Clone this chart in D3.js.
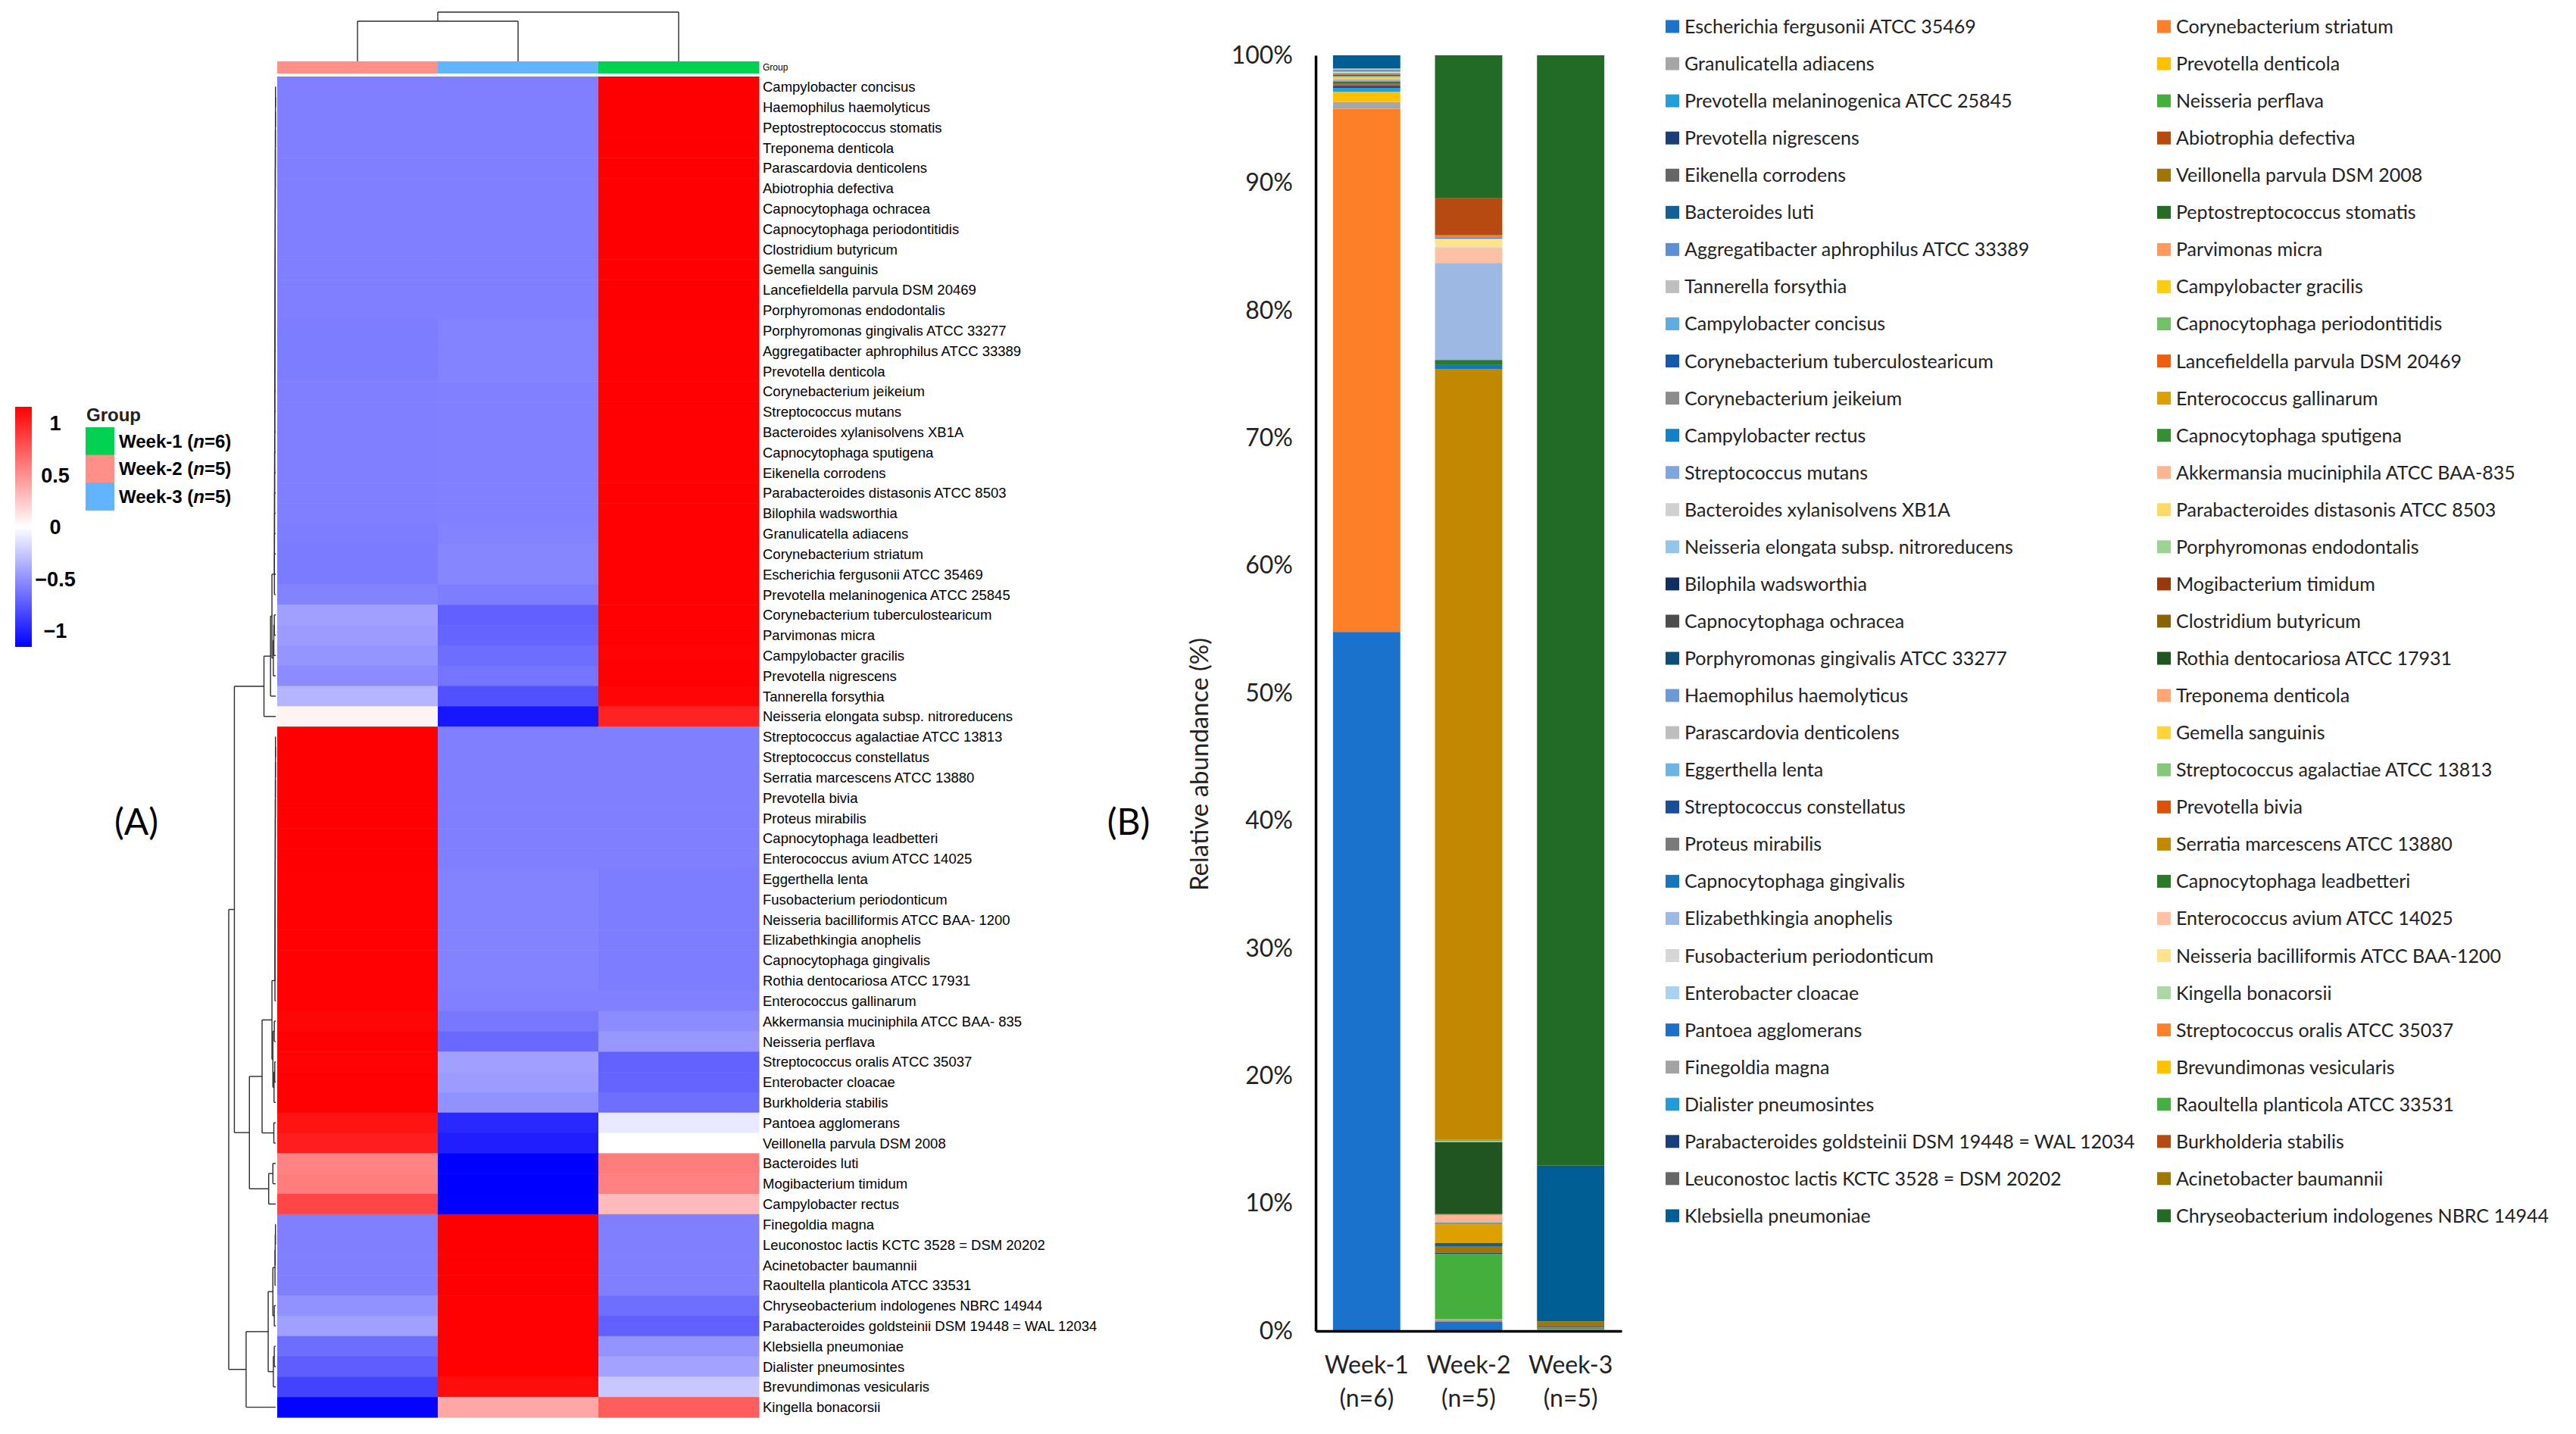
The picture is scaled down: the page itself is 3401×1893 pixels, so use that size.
<!DOCTYPE html>
<html>
<head>
<meta charset="utf-8">
<script src="https://cdn.jsdelivr.net/npm/d3@7/dist/d3.min.js"></script>
<style>
  body { margin: 0; background: #fff; }
</style>
</head>
<body>
<svg id="fig" width="3401" height="1893"></svg>
<script>
// ---------- (A) heatmap data ----------
var heatCols = ["Week-2", "Week-3", "Week-1"];
var groupColors = ["#ff9088", "#62b4ff", "#00d150"];

var rows = [
  "Campylobacter concisus", "Haemophilus haemolyticus", "Peptostreptococcus stomatis",
  "Treponema denticola", "Parascardovia denticolens", "Abiotrophia defectiva",
  "Capnocytophaga ochracea", "Capnocytophaga periodontitidis", "Clostridium butyricum",
  "Gemella sanguinis", "Lancefieldella parvula DSM 20469", "Porphyromonas endodontalis",
  "Porphyromonas gingivalis ATCC 33277", "Aggregatibacter aphrophilus ATCC 33389",
  "Prevotella denticola", "Corynebacterium jeikeium", "Streptococcus mutans",
  "Bacteroides xylanisolvens XB1A", "Capnocytophaga sputigena", "Eikenella corrodens",
  "Parabacteroides distasonis ATCC 8503", "Bilophila wadsworthia", "Granulicatella adiacens",
  "Corynebacterium striatum", "Escherichia fergusonii ATCC 35469",
  "Prevotella melaninogenica ATCC 25845", "Corynebacterium tuberculostearicum",
  "Parvimonas micra", "Campylobacter gracilis", "Prevotella nigrescens", "Tannerella forsythia",
  "Neisseria elongata subsp. nitroreducens", "Streptococcus agalactiae ATCC 13813",
  "Streptococcus constellatus", "Serratia marcescens ATCC 13880", "Prevotella bivia",
  "Proteus mirabilis", "Capnocytophaga leadbetteri", "Enterococcus avium ATCC 14025",
  "Eggerthella lenta", "Fusobacterium periodonticum", "Neisseria bacilliformis ATCC BAA- 1200",
  "Elizabethkingia anophelis", "Capnocytophaga gingivalis", "Rothia dentocariosa ATCC 17931",
  "Enterococcus gallinarum", "Akkermansia muciniphila ATCC BAA- 835", "Neisseria perflava",
  "Streptococcus oralis ATCC 35037", "Enterobacter cloacae", "Burkholderia stabilis",
  "Pantoea agglomerans", "Veillonella parvula DSM 2008", "Bacteroides luti",
  "Mogibacterium timidum", "Campylobacter rectus", "Finegoldia magna",
  "Leuconostoc lactis KCTC 3528 = DSM 20202", "Acinetobacter baumannii",
  "Raoultella planticola ATCC 33531", "Chryseobacterium indologenes NBRC 14944",
  "Parabacteroides goldsteinii DSM 19448 = WAL 12034", "Klebsiella pneumoniae",
  "Dialister pneumosintes", "Brevundimonas vesicularis", "Kingella bonacorsii"
];

// row z-scores, one array per column
var zWeek2 = [
  -0.58, -0.58, -0.58, -0.58, -0.58, -0.58, -0.58, -0.58, -0.58, -0.58, -0.58, -0.58,
  -0.59, -0.59, -0.59, -0.58, -0.58, -0.58, -0.58, -0.58, -0.58, -0.58, -0.59, -0.60,
  -0.60, -0.56, -0.43, -0.45, -0.48, -0.52, -0.34, 0.05,
  1.155, 1.155, 1.155, 1.155, 1.155, 1.155, 1.155, 1.15, 1.15, 1.15, 1.15, 1.15, 1.15, 1.15,
  1.13, 1.15, 1.14, 1.15, 1.15, 1.064, 1.02, 0.56, 0.59, 0.84,
  -0.577, -0.577, -0.577, -0.577, -0.50, -0.43, -0.66, -0.73, -0.85, -1.14
];
var zWeek3 = [
  -0.58, -0.58, -0.58, -0.58, -0.58, -0.58, -0.58, -0.58, -0.58, -0.58, -0.58, -0.58,
  -0.56, -0.56, -0.56, -0.57, -0.57, -0.57, -0.57, -0.57, -0.57, -0.57, -0.56, -0.55,
  -0.55, -0.59, -0.72, -0.70, -0.66, -0.63, -0.79, -1.05,
  -0.577, -0.577, -0.577, -0.577, -0.577, -0.577, -0.577, -0.56, -0.56, -0.56, -0.56, -0.56, -0.56, -0.57,
  -0.61, -0.68, -0.43, -0.45, -0.50, -0.97, -1.02, -1.155, -1.155, -1.15,
  1.155, 1.155, 1.155, 1.155, 1.15, 1.15, 1.15, 1.15, 1.10, 0.40
];
var zWeek1 = [
  1.155, 1.155, 1.155, 1.155, 1.155, 1.155, 1.155, 1.155, 1.155, 1.155, 1.155, 1.155,
  1.15, 1.15, 1.15, 1.15, 1.15, 1.15, 1.15, 1.15, 1.15, 1.15, 1.15, 1.15,
  1.15, 1.15, 1.15, 1.15, 1.14, 1.15, 1.13, 1.0,
  -0.577, -0.577, -0.577, -0.577, -0.577, -0.577, -0.577, -0.59, -0.59, -0.59, -0.59, -0.59, -0.59, -0.57,
  -0.52, -0.47, -0.71, -0.70, -0.65, -0.10, 0.0, 0.595, 0.565, 0.31,
  -0.577, -0.577, -0.577, -0.577, -0.65, -0.72, -0.49, -0.42, -0.25, 0.74
];

// row clustering, hclust style: negative = row (1-based), positive = earlier merge
var rowMerge = [
  [-1, -2, 0.004], [1, -3, 0.005], [2, -4, 0.006], [3, -5, 0.007], [4, -6, 0.008],
  [5, -7, 0.009], [6, -8, 0.010], [7, -9, 0.011], [8, -10, 0.012], [9, -11, 0.013],
  [10, -12, 0.014], [11, -13, 0.015], [12, -14, 0.016], [13, -15, 0.017], [14, -16, 0.018],
  [15, -17, 0.019], [16, -18, 0.020], [17, -19, 0.021], [18, -20, 0.022], [19, -21, 0.023],
  [20, -22, 0.024], [21, -23, 0.025], [22, -24, 0.026], [23, -25, 0.027], [24, -26, 0.028],
  [-27, -28, 0.03], [26, -29, 0.04], [27, -30, 0.05], [25, 28, 0.08], [29, -31, 0.11],
  [30, -32, 0.25],
  [-33, -34, 0.004], [32, -35, 0.005], [33, -36, 0.006], [34, -37, 0.007], [35, -38, 0.008],
  [36, -39, 0.009], [37, -40, 0.010], [38, -41, 0.011], [39, -42, 0.012], [40, -43, 0.013],
  [41, -44, 0.014], [42, -45, 0.015], [43, -46, 0.016],
  [-47, -48, 0.03], [-49, -50, 0.02], [46, -51, 0.035], [45, 47, 0.06], [44, 48, 0.08],
  [-52, -53, 0.04], [49, 50, 0.29], [-54, -55, 0.06], [52, -56, 0.15], [51, 53, 0.56],
  [31, 54, 0.88],
  [-57, -58, 0.005], [56, -59, 0.01], [57, -60, 0.015], [-61, -62, 0.03], [58, 59, 0.06],
  [-63, -64, 0.03], [61, -65, 0.05], [60, 62, 0.16], [63, -66, 0.63],
  [55, 64, 1.0]
];
var colMerge = [[-1, -2, 0.815], [1, -3, 1.0]];

var legendTicks = [1, 0.5, 0, -0.5, -1];
var groupLegend = ["Week-1", "Week-2", "Week-3"];
var groupN = ["6", "5", "5"];
var groupLegendColors = ["#00d150", "#ff9088", "#62b4ff"];

// ---------- (B) stacked bar data ----------
var weeks = ["Week-1", "Week-2", "Week-3"];
var weekN = ["(n=6)", "(n=5)", "(n=5)"];

// stack order (bottom to top) = legend order read row by row
var species = [
  "Escherichia fergusonii ATCC 35469", "Corynebacterium striatum",
  "Granulicatella adiacens", "Prevotella denticola",
  "Prevotella melaninogenica ATCC 25845", "Neisseria perflava",
  "Prevotella nigrescens", "Abiotrophia defectiva",
  "Eikenella corrodens", "Veillonella parvula DSM 2008",
  "Bacteroides luti", "Peptostreptococcus stomatis",
  "Aggregatibacter aphrophilus ATCC 33389", "Parvimonas micra",
  "Tannerella forsythia", "Campylobacter gracilis",
  "Campylobacter concisus", "Capnocytophaga periodontitidis",
  "Corynebacterium tuberculostearicum", "Lancefieldella parvula DSM 20469",
  "Corynebacterium jeikeium", "Enterococcus gallinarum",
  "Campylobacter rectus", "Capnocytophaga sputigena",
  "Streptococcus mutans", "Akkermansia muciniphila ATCC BAA-835",
  "Bacteroides xylanisolvens XB1A", "Parabacteroides distasonis ATCC 8503",
  "Neisseria elongata subsp. nitroreducens", "Porphyromonas endodontalis",
  "Bilophila wadsworthia", "Mogibacterium timidum",
  "Capnocytophaga ochracea", "Clostridium butyricum",
  "Porphyromonas gingivalis ATCC 33277", "Rothia dentocariosa ATCC 17931",
  "Haemophilus haemolyticus", "Treponema denticola",
  "Parascardovia denticolens", "Gemella sanguinis",
  "Eggerthella lenta", "Streptococcus agalactiae ATCC 13813",
  "Streptococcus constellatus", "Prevotella bivia",
  "Proteus mirabilis", "Serratia marcescens ATCC 13880",
  "Capnocytophaga gingivalis", "Capnocytophaga leadbetteri",
  "Elizabethkingia anophelis", "Enterococcus avium ATCC 14025",
  "Fusobacterium periodonticum", "Neisseria bacilliformis ATCC BAA-1200",
  "Enterobacter cloacae", "Kingella bonacorsii",
  "Pantoea agglomerans", "Streptococcus oralis ATCC 35037",
  "Finegoldia magna", "Brevundimonas vesicularis",
  "Dialister pneumosintes", "Raoultella planticola ATCC 33531",
  "Parabacteroides goldsteinii DSM 19448 = WAL 12034", "Burkholderia stabilis",
  "Leuconostoc lactis KCTC 3528 = DSM 20202", "Acinetobacter baumannii",
  "Klebsiella pneumoniae", "Chryseobacterium indologenes NBRC 14944"
];
var speciesColors = [
  "#1b72cc", "#fd7f28", "#a6a6a6", "#ffc000", "#229ed9", "#44af3c",
  "#1a3f78", "#b84a0f", "#666666", "#a07407", "#135e96", "#256b23",
  "#5b8fd6", "#ff9960", "#bfbfbf", "#ffcc14", "#5dade2", "#72c165",
  "#1558a8", "#ee6010", "#8c8c8c", "#dda000", "#1380c8", "#358e33",
  "#7fa6de", "#ffb690", "#d0d0d0", "#ffd966", "#92c5ea", "#9bd393",
  "#0f2f5f", "#99380a", "#4d4d4d", "#8b6205", "#0e4c7a", "#1f5520",
  "#6c9ad6", "#ffa472", "#bebebe", "#ffd43b", "#6cb4e6", "#86c77a",
  "#154e96", "#d9540a", "#7a7a7a", "#c18800", "#1677b8", "#2b7a28",
  "#9db9e3", "#ffc1a3", "#d6d6d6", "#ffe38a", "#a9d2f0", "#abd9a3",
  "#1c6fcb", "#ff7f2a", "#a3a3a3", "#ffc000", "#219cdb", "#46b03e",
  "#173f7a", "#b64a10", "#666666", "#a07800", "#005e94", "#226b25"
];
var week1Abund = [
  54.8, 41.0, 0.55, 0.8, 0.3, 0, 0.12, 0.15, 0.1, 0, 0, 0.12,
  0.08, 0.1, 0.05, 0.1, 0.05, 0.06, 0.08, 0.05, 0.05, 0, 0, 0.04,
  0.03, 0, 0.03, 0.03, 0.03, 0.02, 0.02, 0, 0.03, 0.03, 0.03, 0,
  0.03, 0.03, 0.02, 0.03, 0, 0, 0, 0, 0, 0, 0, 0,
  0, 0, 0, 0, 0, 0, 0, 0, 0, 0, 0, 0,
  0, 0, 0, 0, 1.04, 0
];
var week2Abund = [
  0.75, 0.1, 0.1, 0, 0, 5.1, 0.1, 0, 0, 0.5, 0.24, 0,
  0, 0, 0, 0, 0, 0, 0, 0, 0, 1.55, 0.05, 0,
  0, 0.63, 0, 0, 0, 0, 0, 0.05, 0, 0, 0, 5.64,
  0, 0, 0, 0, 0.05, 0.05, 0.02, 0.03, 0.02, 60.4, 0.34, 0.4,
  7.6, 1.2, 0.05, 0.6, 0.05, 0.02, 0.05, 0.2, 0, 0, 0, 0,
  0, 2.9, 0, 0, 0, 11.21
];
var week3Abund = [
  0, 0, 0, 0, 0, 0, 0, 0, 0, 0, 0, 0,
  0, 0, 0, 0, 0, 0, 0, 0, 0, 0, 0, 0,
  0, 0, 0, 0, 0, 0, 0, 0, 0, 0, 0, 0,
  0, 0, 0, 0, 0, 0, 0, 0, 0, 0, 0, 0,
  0, 0, 0, 0, 0, 0.01, 0, 0, 0.05, 0.03, 0.03, 0.05,
  0.04, 0.05, 0.15, 0.35, 12.2, 87.04
];
var yTicks = [0, 10, 20, 30, 40, 50, 60, 70, 80, 90, 100];

// ================= drawing =================
var svg = d3.select("#fig");
var sans = "'Liberation Sans', Arial, sans-serif";
var cal = "Lato, 'Open Sans', sans-serif";

svg.append("rect").attr("width", 3401).attr("height", 1893).attr("fill", "#fff");

// ---- heatmap ----
var xCol = d3.scaleBand().domain(heatCols).range([366, 1002]);
var yRow = d3.scaleBand().domain(rows).range([101, 1871]);
var zColor = d3.scaleLinear()
    .domain([-1.155, 0, 1.155])
    .range(["#0000ff", "#ffffff", "#ff0000"])
    .clamp(true);

var cells = [];
var zCols = [zWeek2, zWeek3, zWeek1];
rows.forEach(function (r, i) {
    heatCols.forEach(function (c, j) {
        cells.push({row: r, col: c, z: zCols[j][i]});
    });
});

var gHeat = svg.append("g");
gHeat.selectAll(".cell")
    .data(cells)
    .enter()
    .append("rect")
    .attr("class", "cell")
    .attr("x", function (d) { return xCol(d.col); })
    .attr("y", function (d) { return yRow(d.row); })
    .attr("width", xCol.bandwidth() + 0.5)
    .attr("height", yRow.bandwidth() + 0.5)
    .attr("fill", function (d) { return zColor(d.z); });

// group annotation bar
gHeat.selectAll(".grp")
    .data(heatCols)
    .enter()
    .append("rect")
    .attr("x", function (d) { return xCol(d); })
    .attr("y", 81)
    .attr("width", xCol.bandwidth() + 0.5)
    .attr("height", 16)
    .attr("fill", function (d, i) { return groupColors[i]; });

gHeat.append("text")
    .text("Group")
    .attr("x", 1007)
    .attr("y", 93)
    .style("font-family", sans)
    .style("font-size", "12px");

// row labels
gHeat.selectAll(".rlab")
    .data(rows)
    .enter()
    .append("text")
    .text(function (d) { return d; })
    .attr("x", 1007)
    .attr("y", function (d) { return yRow(d) + yRow.bandwidth() / 2; })
    .attr("dy", "0.36em")
    .style("font-family", sans)
    .style("font-size", "18.5px");

// dendrograms from merge tables
function drawMerges(g, merges, leafPos, hPos, vertical) {
    var pos = [], hts = [];
    function p(k) { return k < 0 ? leafPos(-k - 1) : pos[k - 1]; }
    function h(k) { return k < 0 ? 0 : hts[k - 1]; }
    merges.forEach(function (m) {
        var pa = p(m[0]), pb = p(m[1]);
        var segs = [
            [hPos(h(m[0])), pa, hPos(m[2]), pa],
            [hPos(h(m[1])), pb, hPos(m[2]), pb],
            [hPos(m[2]), pa, hPos(m[2]), pb]
        ];
        segs.forEach(function (s) {
            var l = g.append("line");
            if (vertical) {
                l.attr("x1", s[1]).attr("y1", s[0]).attr("x2", s[3]).attr("y2", s[2]);
            } else {
                l.attr("x1", s[0]).attr("y1", s[1]).attr("x2", s[2]).attr("y2", s[3]);
            }
        });
        pos.push((pa + pb) / 2);
        hts.push(m[2]);
    });
}

var gRowDen = svg.append("g")
    .attr("stroke", "#2b2b2b")
    .attr("stroke-width", 1.4);
drawMerges(gRowDen, rowMerge,
    function (i) { return yRow(rows[i]) + yRow.bandwidth() / 2; },
    d3.scaleLinear().domain([0, 1]).range([364, 302]), false);

var gColDen = svg.append("g")
    .attr("stroke", "#2b2b2b")
    .attr("stroke-width", 1.4);
drawMerges(gColDen, colMerge,
    function (i) { return xCol(heatCols[i]) + xCol.bandwidth() / 2; },
    d3.scaleLinear().domain([0, 1]).range([81, 16]), true);

// colour key
var defs = svg.append("defs");
var grad = defs.append("linearGradient")
    .attr("id", "zgrad")
    .attr("x1", 0).attr("y1", 1).attr("x2", 0).attr("y2", 0);
grad.append("stop").attr("offset", "0%").attr("stop-color", "#0000ff");
grad.append("stop").attr("offset", "50%").attr("stop-color", "#ffffff");
grad.append("stop").attr("offset", "100%").attr("stop-color", "#ff0000");

var yKey = d3.scaleLinear().domain([-1.155, 1.155]).range([854, 537]);
svg.append("rect")
    .attr("x", 20).attr("y", 537)
    .attr("width", 22).attr("height", 317)
    .attr("fill", "url(#zgrad)");
svg.selectAll(".ktick")
    .data(legendTicks)
    .enter()
    .append("text")
    .text(function (d) { return d < 0 ? "\u2212" + Math.abs(d) : d; })
    .attr("x", 73)
    .attr("y", function (d) { return yKey(d); })
    .attr("dy", "0.36em")
    .attr("text-anchor", "middle")
    .style("font-family", sans)
    .style("font-weight", "bold")
    .style("font-size", "27px");

svg.append("text")
    .text("Group")
    .attr("x", 114).attr("y", 556)
    .style("font-family", sans)
    .style("font-weight", "bold")
    .style("font-size", "24px")
    .attr("fill", "#222");

var gLeg = svg.selectAll(".gLeg")
    .data(groupLegend)
    .enter()
    .append("g");
gLeg.append("rect")
    .attr("x", 113)
    .attr("y", function (d, i) { return 564 + i * 36.5; })
    .attr("width", 38)
    .attr("height", 37)
    .attr("fill", function (d, i) { return groupLegendColors[i]; });
var gLegText = gLeg.append("text")
    .attr("x", 157)
    .attr("y", function (d, i) { return 582 + i * 36.5; })
    .attr("dy", "0.36em")
    .style("font-family", sans)
    .style("font-weight", "bold")
    .style("font-size", "24px");
gLegText.append("tspan").text(function (d) { return d + " ("; });
gLegText.append("tspan").style("font-style", "italic").text("n");
gLegText.append("tspan").text(function (d, i) { return "=" + groupN[i] + ")"; });

// panel letters
svg.append("text").text("(A)")
    .attr("x", 180).attr("y", 1085).attr("dy", "0.35em")
    .attr("text-anchor", "middle")
    .style("font-family", cal).style("font-size", "48px");
svg.append("text").text("(B)")
    .attr("x", 1490).attr("y", 1085).attr("dy", "0.35em")
    .attr("text-anchor", "middle")
    .style("font-family", cal).style("font-size", "48px");

// ---- stacked bars ----
var table = weeks.map(function (w, i) {
    var row = {week: w};
    var src = [week1Abund, week2Abund, week3Abund][i];
    species.forEach(function (s, k) { row[s] = src[k]; });
    return row;
});
var stack = d3.stack().keys(species)(table);

var xBar = d3.scaleBand()
    .domain(weeks)
    .range([1737, 2141])
    .paddingInner(0.34)
    .paddingOuter(0.17);
var yBar = d3.scaleLinear().domain([0, 100]).range([1757, 73]);

var gBars = svg.append("g");
gBars.selectAll(".layer")
    .data(stack)
    .enter()
    .append("g")
    .attr("fill", function (d, i) { return speciesColors[i]; })
    .selectAll("rect")
    .data(function (d) { return d; })
    .enter()
    .append("rect")
    .attr("x", function (d) { return xBar(d.data.week); })
    .attr("y", function (d) { return yBar(d[1]); })
    .attr("width", xBar.bandwidth())
    .attr("height", function (d) { return Math.max(0, yBar(d[0]) - yBar(d[1])); });

var yAxis = svg.append("g")
    .attr("transform", "translate(1737,0)")
    .call(d3.axisLeft(yBar)
        .tickValues(yTicks)
        .tickFormat(function (d) { return d + "%"; })
        .tickSize(0)
        .tickSizeOuter(0)
        .tickPadding(30));
yAxis.select(".domain").attr("stroke", "#000").attr("stroke-width", 3.5);
yAxis.selectAll("text")
    .style("font-family", cal)
    .style("font-size", "32px")
    .attr("fill", "#222");

var xAxis = svg.append("g")
    .attr("transform", "translate(0,1757)")
    .call(d3.axisBottom(xBar).tickSize(0).tickSizeOuter(0).tickFormat(""));
xAxis.select(".domain").attr("stroke", "#000").attr("stroke-width", 3.5);

var xl = svg.selectAll(".xlab")
    .data(weeks)
    .enter()
    .append("text")
    .attr("text-anchor", "middle")
    .style("font-family", cal)
    .style("font-size", "32px")
    .attr("fill", "#222");
xl.append("tspan")
    .attr("x", function (d) { return xBar(d) + xBar.bandwidth() / 2; })
    .attr("y", 1813)
    .text(function (d) { return d; });
xl.append("tspan")
    .attr("x", function (d) { return xBar(d) + xBar.bandwidth() / 2; })
    .attr("y", 1857)
    .text(function (d, i) { return weekN[i]; });

svg.append("text")
    .text("Relative abundance (%)")
    .attr("transform", "translate(1583,1009) rotate(-90)")
    .attr("text-anchor", "middle")
    .attr("dy", "0.35em")
    .style("font-family", cal)
    .style("font-size", "33px")
    .attr("fill", "#222");

// legend, two columns read row by row
var gSp = svg.selectAll(".spLeg")
    .data(species)
    .enter()
    .append("g")
    .attr("transform", function (d, i) {
        var x = i % 2 === 0 ? 2199 : 2848;
        var y = 35 + Math.floor(i / 2) * 49.06;
        return "translate(" + x + "," + y + ")";
    });
gSp.append("rect")
    .attr("x", 0).attr("y", -8.5)
    .attr("width", 18).attr("height", 17)
    .attr("fill", function (d, i) { return speciesColors[i]; });
gSp.append("text")
    .text(function (d) { return d; })
    .attr("x", 25)
    .attr("dy", "0.36em")
    .style("font-family", cal)
    .style("font-size", "25px")
    .attr("fill", "#222");
</script>
</body>
</html>
